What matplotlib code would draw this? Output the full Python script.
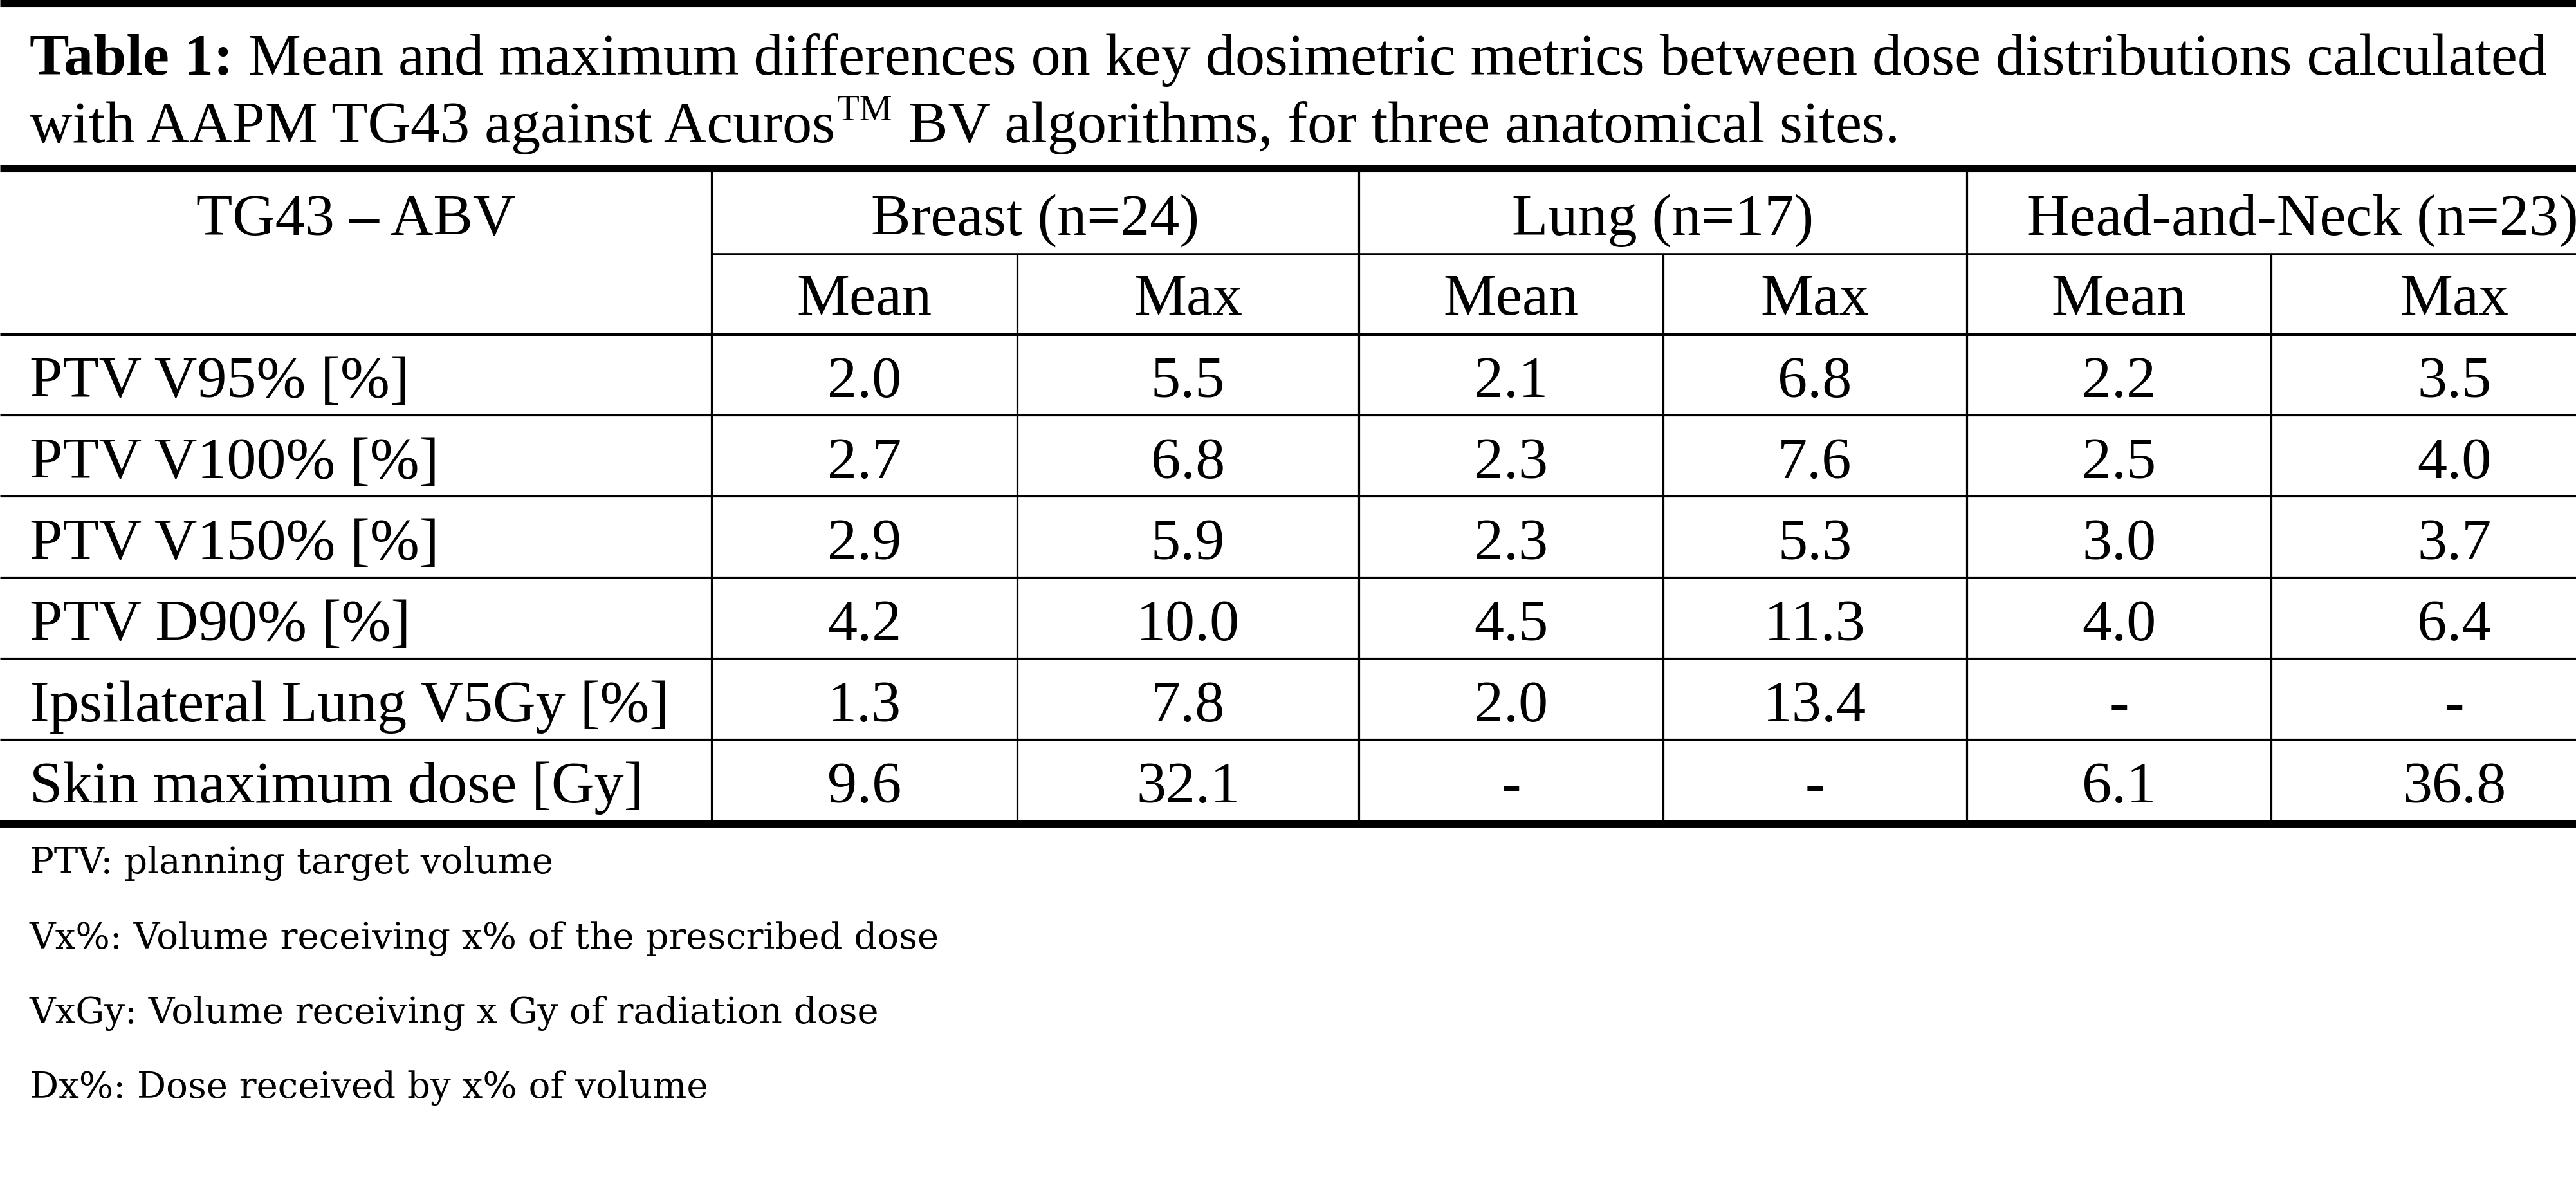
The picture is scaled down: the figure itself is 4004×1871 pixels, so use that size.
import matplotlib.pyplot as plt
import numpy as np

# --- table content ---
title_bold = "Table 1:"
title_line1 = "Mean and maximum differences on key dosimetric metrics between dose distributions calculated"
title_line2a = "with AAPM TG43 against Acuros"
title_sup = "TM"
title_line2b = "BV algorithms, for three anatomical sites."

corner_label = "TG43 \u2013 ABV"
sites = ["Breast (n=24)", "Lung (n=17)", "Head-and-Neck (n=23)"]
stats = ["Mean", "Max"]
metrics = ["PTV V95% [%]", "PTV V100% [%]", "PTV V150% [%]", "PTV D90% [%]",
           "Ipsilateral Lung V5Gy [%]", "Skin maximum dose [Gy]"]
breast_mean = ["2.0", "2.7", "2.9", "4.2", "1.3", "9.6"]
breast_max = ["5.5", "6.8", "5.9", "10.0", "7.8", "32.1"]
lung_mean = ["2.1", "2.3", "2.3", "4.5", "2.0", "-"]
lung_max = ["6.8", "7.6", "5.3", "11.3", "13.4", "-"]
hn_mean = ["2.2", "2.5", "3.0", "4.0", "-", "6.1"]
hn_max = ["3.5", "4.0", "3.7", "6.4", "-", "36.8"]

footnotes = ["PTV: planning target volume",
             "Vx%: Volume receiving x% of the prescribed dose",
             "VxGy: Volume receiving x Gy of radiation dose",
             "Dx%: Dose received by x% of volume"]

columns = [breast_mean, breast_max, lung_mean, lung_max, hn_mean, hn_max]

# --- layout (pixel units, y grows downward) ---
W, H = 4005, 1871
col_widths = [1106, 475, 531, 473, 472, 473, 570]
edges = np.concatenate([[0], np.cumsum(col_widths)])
head_top = 262
group_line = 395
head_bottom = 519
row_h = 126
table_bottom = head_bottom + row_h * len(metrics)

serif = "Liberation Serif"
fs = 66.3
note_font = "DejaVu Serif"
note_fs = 40.5

fig = plt.figure(figsize=(W / 100, H / 100), dpi=100)
ax = fig.add_axes([0, 0, 1, 1])
ax.set_xlim(0, W)
ax.set_ylim(H, 0)
ax.axis("off")

# horizontal rules
ax.hlines(5, 0, W, color="black", lw=8)
ax.hlines(head_top, 0, W, color="black", lw=8)
ax.hlines(group_line, edges[1], W, color="black", lw=2.6)
ax.hlines(head_bottom, 0, W, color="black", lw=3.6)
for i in range(1, len(metrics)):
    ax.hlines(head_bottom + i * row_h, 0, W, color="black", lw=2.3)
ax.hlines(table_bottom + 5, 0, W, color="black", lw=8.6)

# vertical rules
ax.vlines(edges[1:-1:2], head_top, table_bottom, color="black", lw=2.3)
ax.vlines(edges[2:-1:2], group_line, table_bottom, color="black", lw=2.3)

# header
ax.text(edges[1] / 2, 365, corner_label, fontsize=fs, family=serif,
        ha="center", va="baseline")
for g, site in enumerate(sites):
    cx = (edges[1 + 2 * g] + edges[3 + 2 * g]) / 2
    ax.text(cx, 365, site, fontsize=fs, family=serif, ha="center", va="baseline")
for c in range(len(columns)):
    cx = (edges[1 + c] + edges[2 + c]) / 2
    ax.text(cx, 489, stats[c % 2], fontsize=fs, family=serif,
            ha="center", va="baseline")

# body
for r, label in enumerate(metrics):
    yb = head_bottom + r * row_h + 98
    ax.text(46, yb, label, fontsize=fs, family=serif, ha="left", va="baseline")
    for c, col in enumerate(columns):
        cx = (edges[1 + c] + edges[2 + c]) / 2
        ax.text(cx, yb, col[r], fontsize=fs, family=serif,
                ha="center", va="baseline")

# title, drawn in runs
renderer = fig.canvas.get_renderer()


def width_of(t):
    return t.get_window_extent(renderer).width


space = 0.25 * fs * 100 / 72

x0 = 46
t = ax.text(x0, 116, title_bold, fontsize=fs, family=serif, weight="bold",
            ha="left", va="baseline")
ax.text(x0 + width_of(t) + space, 116, title_line1, fontsize=fs, family=serif,
        ha="left", va="baseline")

t = ax.text(x0, 221, title_line2a, fontsize=fs, family=serif,
            ha="left", va="baseline")
xs = x0 + width_of(t) + 3
t = ax.text(xs, 187, title_sup, fontsize=41, family=serif,
            ha="left", va="baseline")
ax.text(xs + width_of(t) + 26, 221, title_line2b, fontsize=fs, family=serif,
        ha="left", va="baseline")

# footnotes
for k, note in enumerate(footnotes):
    ax.text(46, 1357 + k * 116.5, note, fontsize=note_fs, family=note_font,
            ha="left", va="baseline")

fig.savefig("out.png", dpi=100, facecolor="white")
